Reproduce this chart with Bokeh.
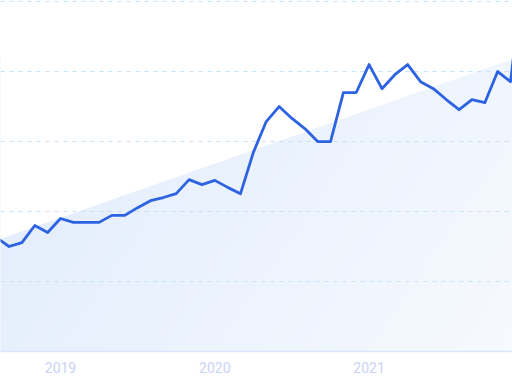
import numpy as np
from bokeh.plotting import figure
from bokeh.models import Range1d, FixedTicker, Grid, Label
from bokeh.embed import file_html
from bokeh.resources import INLINE

# Monthly values, Aug 2018 .. Jan 2022
start_year = 2018
start_month = 8
values = [32.6, 30.0, 31.1, 36.0, 34.0,
          38.0, 36.9, 36.9, 36.9, 38.9, 38.9, 41.1, 43.1, 44.0, 45.1, 49.1, 47.7,
          48.9, 46.9, 45.1, 56.9, 65.7, 70.0, 66.6, 63.7, 60.0, 60.0, 74.0, 74.0,
          82.0, 75.1, 79.1, 82.0, 77.1, 75.1, 72.0, 69.1, 72.0, 71.1, 80.0, 77.1,
          108.0]
# trend band (start / end values)
trend_values = [31.9, 84.8]
year_ticks = [2019, 2020, 2021]
grid_ticks = [20, 40, 60, 80, 100]

x = [start_year + (start_month - 1 + i) / 12 for i in range(len(values))]

p = figure(width=512, height=384, output_backend="svg", toolbar_location=None,
           x_range=Range1d(2018.6111, 2021.9294), y_range=Range1d(0, 100.3),
           y_axis_location=None, min_border_left=0, min_border_right=0,
           min_border_top=0, min_border_bottom=33)
p.outline_line_color = None
for g in list(p.grid):
    g.visible = False
p.background_fill_color = "white"
p.border_fill_color = "white"

# gradient area below trend line
n = 96
u = np.linspace(0, 1, n)[None, :]
v = np.linspace(1, 0, n)[:, None]
t = np.clip(0.72 * u + 0.28 * v, 0, 1)
A = np.array([224, 236, 252])
B = np.array([247, 250, 255])
img = np.empty((n, n), dtype=np.uint32)
view = img.view(dtype=np.uint8).reshape((n, n, 4))
for k in range(3):
    view[:, :, k] = (A[k] + (B[k] - A[k]) * t).astype(np.uint8)
view[:, :, 3] = 255
x0, x1 = x[0], x[-1]
p.image_rgba(image=[img], x=x0, y=0, dw=x1 - x0, dh=trend_values[1], level="image")
top = 200
p.patch(x=[x0, x1, x1, x0], y=[trend_values[0], trend_values[1], top, top],
        fill_color="white", line_color="white", line_width=1, level="image")

grid = Grid(dimension=1, ticker=FixedTicker(ticks=grid_ticks),
            grid_line_color="#c4e3fb", grid_line_dash="4 5", grid_line_width=1)
p.add_layout(grid)

p.line(x, values, line_color="#2d62e2", line_width=2.8, line_join="round")

p.xaxis.ticker = FixedTicker(ticks=year_ticks)
p.xaxis.major_tick_line_color = None
p.xaxis.minor_tick_line_color = None
p.xaxis.axis_line_color = "#d9e6fb"
p.xaxis.axis_line_width = 1.5
p.xaxis.major_label_text_color = "#c9d3f4"
p.xaxis.major_label_text_font = "Roboto"
p.xaxis.major_label_text_font_size = "14px"
p.xaxis.major_label_standoff = 4

lab = Label(x=2022, y=-4.6, text="2022", text_align="center", text_baseline="middle",
            text_color="#c9d3f4", text_font="Roboto", text_font_size="14px")
p.add_layout(lab)

open("out.html", "w").write(file_html(p, INLINE))
